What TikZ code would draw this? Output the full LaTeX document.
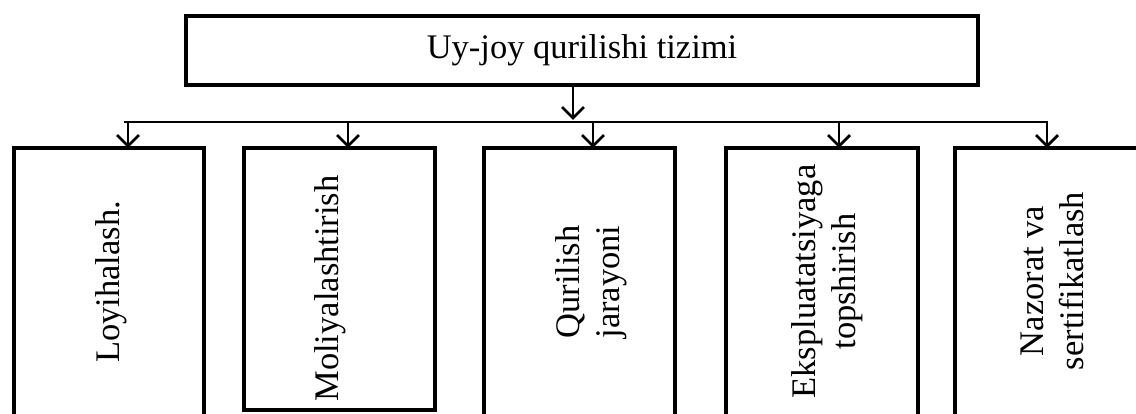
\documentclass[tikz,border=0pt]{standalone}
\usepackage{fontspec}
\setmainfont{Liberation Serif}
\usetikzlibrary{arrows.meta}
\begin{document}
\begin{tikzpicture}[x=1pt,y=1pt,
  box/.style={draw, line width=4pt, inner sep=0pt, outer sep=0pt},
  lbl/.style={rotate=90, font=\fontsize{34.5}{40}\selectfont, align=center, inner sep=0pt},
  conn/.style={line width=2.8pt},
  arr/.style={conn, -{Straight Barb[length=11pt,width=22pt]}}]
\useasboundingbox (0,0) rectangle (1136,414);
\clip (0,0) rectangle (1136,414);
% top box
\node[box, minimum width=792pt, minimum height=69pt, font=\fontsize{34.5}{40}\selectfont] (top) at (582,363.5) {Uy-joy qurilishi tizimi};
% lower boxes
\node[box, minimum width=190pt, minimum height=270pt] (b1) at (109,131) {};
\node[box, minimum width=191pt, minimum height=262pt] (b2) at (339.5,135) {};
\node[box, minimum width=191pt, minimum height=270pt] (b3) at (579.5,131) {};
\node[box, minimum width=192pt, minimum height=270pt] (b4) at (822,131) {};
\node[box, minimum width=192pt, minimum height=270pt] (b5) at (1051,131) {};
% labels
\node[lbl] (t1) at (111,132) {Loyihalash.};
\node[lbl] (t2) at (330.5,125.5) {Moliyalashtirish};
\node[lbl] (t3) at (591.5,132) {Qurilish\\jarayoni};
\node[lbl] (t4) at (827.5,132.5) {Ekspluatatsiyaga\\topshirish};
\node[lbl] (t5) at (1052.5,133) {Nazorat va\\sertifikatlash};
% bus coordinates
\coordinate (m) at (573,294);
\coordinate (bl) at (124,292);
\coordinate (d1) at (128,292);
\coordinate (d2) at (348,292);
\coordinate (d3) at (593,292);
\coordinate (d4) at (839,292);
\coordinate (d5) at (1047,292);
% connectors
\draw[arr] (top.south -| m) -- (m);
\draw[arr] (bl) -- (d5) -- (d5 |- b5.north);
\draw[arr] (d1) -- (d1 |- b1.north);
\draw[arr] (d2) -- (d2 |- b2.north);
\draw[arr] (d3) -- (d3 |- b3.north);
\draw[arr] (d4) -- (d4 |- b4.north);
\end{tikzpicture}
\end{document}
